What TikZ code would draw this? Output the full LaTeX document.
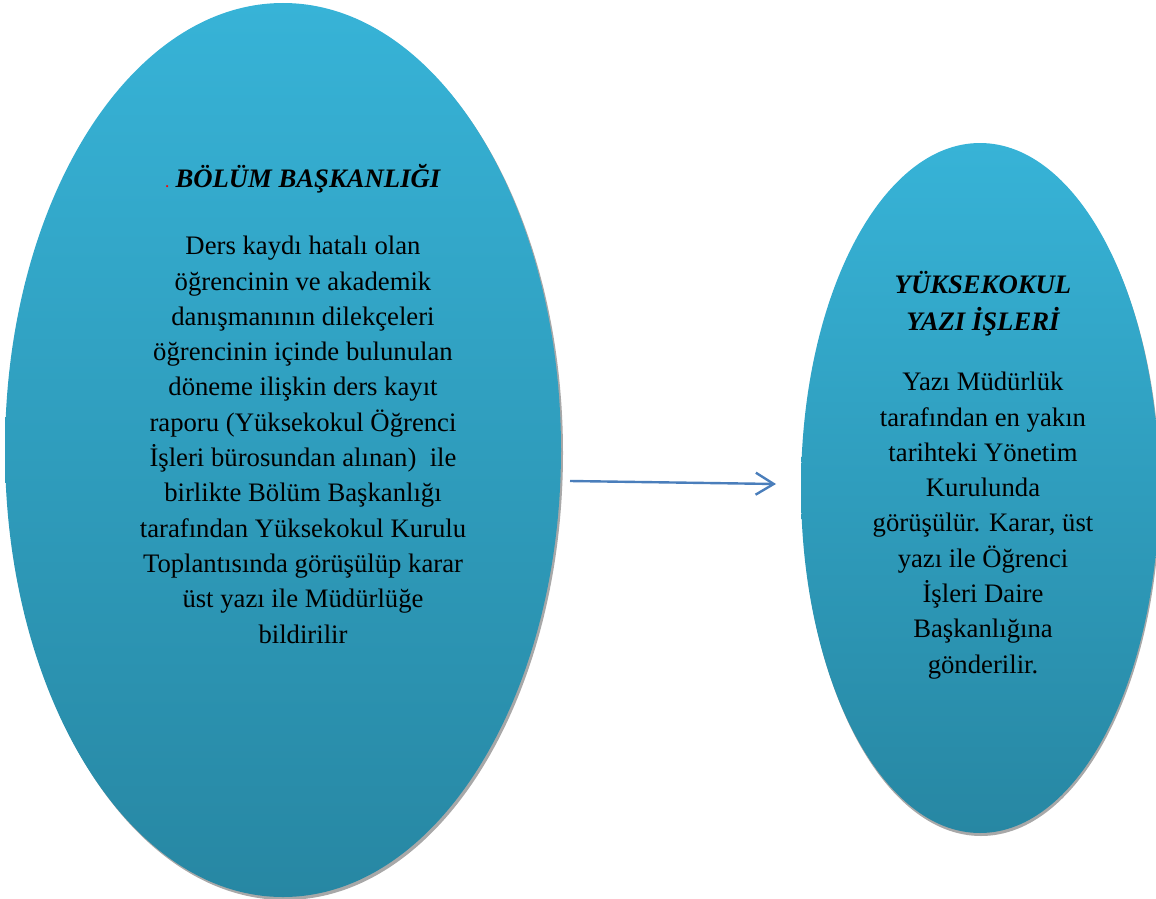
\documentclass[tikz,border=0pt]{standalone}
\usepackage{fontspec}
\setmainfont{Liberation Serif}
\usetikzlibrary{shapes.geometric,arrows.meta}
\definecolor{topc}{HTML}{37B3D7}
\definecolor{botc}{HTML}{2787A3}
\definecolor{shadowc}{HTML}{A8A8A8}
\definecolor{arrowc}{HTML}{4A7EBB}
\tikzset{
  oval/.style={ellipse, inner sep=0pt, top color=topc, bottom color=botc, draw=none},
  ovalshadow/.style={ellipse, inner sep=0pt, fill=shadowc, draw=none},
  body/.style={align=center, font=\fontsize{26.7}{35.3}\selectfont, inner sep=0pt},
  titletext/.style={align=center, font=\fontsize{26.7}{37}\selectfont\bfseries\itshape, inner sep=0pt},
  link/.style={draw=arrowc, line width=2.4pt, -{Straight Barb[length=18pt,width=22pt,line width=2.4pt]}}
}
\begin{document}
\begin{tikzpicture}[x=1pt,y=-1pt]
\useasboundingbox (0,0) rectangle (1156,899);
% shadows
\node[ovalshadow, minimum width=556pt, minimum height=894pt] (Ls) at (285,453) {};
\node[ovalshadow, minimum width=358pt, minimum height=690pt] (Rs) at (981,491) {};
% ellipses
\node[oval, minimum width=556pt, minimum height=894pt] (L) at (283,450) {};
\node[oval, minimum width=358pt, minimum height=690pt] (R) at (980,488) {};
% left text
\node[titletext, anchor=base] (Lt) at (303,187) {{\color{red}\fontsize{13}{13}\selectfont\upshape .}\ BÖLÜM BAŞKANLIĞI};
\node[body, anchor=north] (Lb) at (303,236) {Ders kaydı hatalı olan\\
öğrencinin ve akademik\\
danışmanının dilekçeleri\\
öğrencinin içinde bulunulan\\
döneme ilişkin ders kayıt\\
raporu (Yüksekokul Öğrenci\\
İşleri bürosundan alınan)\ \ ile\\
birlikte Bölüm Başkanlığı\\
tarafından Yüksekokul Kurulu\\
Toplantısında görüşülüp karar\\
üst yazı ile Müdürlüğe\\
bildirilir};
% right text
\node[titletext, anchor=north] (Rt) at (983,271) {YÜKSEKOKUL\\YAZI İŞLERİ};
\node[body, anchor=north] (Rb) at (983,372) {Yazı Müdürlük\\
tarafından en yakın\\
tarihteki Yönetim\\
Kurulunda\\
görüşülür. Karar, üst\\
yazı ile Öğrenci\\
İşleri Daire\\
Başkanlığına\\
gönderilir.};
% connector
\coordinate (a1) at (570,481);
\coordinate (a2) at (776,484);
\draw[link] (a1) -- (a2);
\end{tikzpicture}
\end{document}
